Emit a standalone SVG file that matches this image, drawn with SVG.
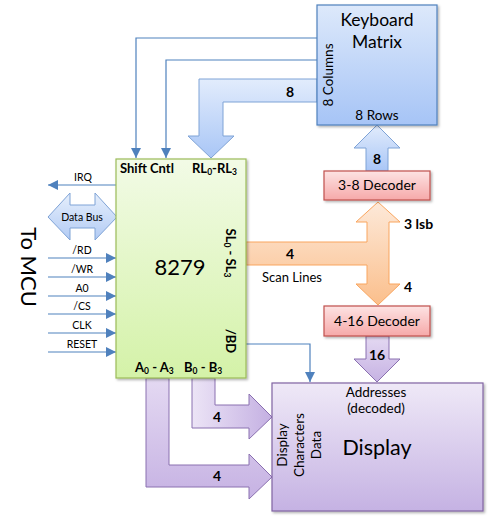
<svg xmlns="http://www.w3.org/2000/svg" width="489" height="518" viewBox="0 0 489 518">
<defs>
<linearGradient id="gGreen" x1="0" y1="0" x2="0" y2="1"><stop offset="0" stop-color="#f2fbe6"/><stop offset="1" stop-color="#d4f2a8"/></linearGradient>
<linearGradient id="gBlue" x1="0" y1="0" x2="0" y2="1"><stop offset="0" stop-color="#dde9fb"/><stop offset="1" stop-color="#a6c4f6"/></linearGradient>
<linearGradient id="gBlueA" x1="0" y1="0" x2="0" y2="1"><stop offset="0" stop-color="#e2ecfc"/><stop offset="1" stop-color="#a9c6f6"/></linearGradient>
<linearGradient id="gRed" x1="0" y1="0" x2="0" y2="1"><stop offset="0" stop-color="#fde3e3"/><stop offset="1" stop-color="#f6a9a9"/></linearGradient>
<linearGradient id="gPurple" x1="0" y1="0" x2="0" y2="1"><stop offset="0" stop-color="#efe9f7"/><stop offset="1" stop-color="#c5b2e3"/></linearGradient>
<linearGradient id="gPurpleA" x1="0" y1="0" x2="1" y2="0"><stop offset="0" stop-color="#ece4f6"/><stop offset="1" stop-color="#c4b0e2"/></linearGradient>
<linearGradient id="gPurpleV" x1="0" y1="0" x2="0" y2="1"><stop offset="0" stop-color="#e4d9f2"/><stop offset="1" stop-color="#c6b2e3"/></linearGradient>
<linearGradient id="gOrange" x1="0" y1="0" x2="0" y2="1"><stop offset="0" stop-color="#fde9d9"/><stop offset="1" stop-color="#fbbf8c"/></linearGradient>
<linearGradient id="gDB" x1="0" y1="0" x2="0" y2="1"><stop offset="0" stop-color="#e6effc"/><stop offset="1" stop-color="#b2cbf4"/></linearGradient>
<filter id="sh" x="-10%" y="-10%" width="130%" height="130%"><feDropShadow dx="1.5" dy="1.5" stdDeviation="1.2" flood-color="#000" flood-opacity="0.3"/></filter>
<marker id="ah" viewBox="0 0 10 10" refX="10" refY="5" markerWidth="10" markerHeight="10" markerUnits="userSpaceOnUse" orient="auto"><path d="M0,0 L10,5 L0,10 Z" fill="#4f81bd"/></marker>
</defs>
<style>
text{font-family:Lato,"Open Sans","Liberation Sans",sans-serif;fill:#000}
.t{font-size:10.5px}
.b{font-weight:bold;font-size:13px}
.n{font-weight:bold;font-size:14px}
.m{font-size:13.5px}
.w{fill:none;stroke:#4f81bd;stroke-width:1.2}
.sig{fill:none;stroke:#4f81bd;stroke-width:1.2;marker-end:url(#ah)}
</style>

<g id="connectors">
  <path class="sig" d="M317,38 H136 V158"/>
  <path class="sig" d="M317,60 H166 V158"/>
  <path class="sig" d="M246,344 H310 V382"/>
  <path class="sig" d="M116,185 H48"/>
  <path class="sig" d="M48,258 H116"/>
  <path class="sig" d="M48,277 H116"/>
  <path class="sig" d="M48,296 H116"/>
  <path class="sig" d="M48,314 H116"/>
  <path class="sig" d="M48,333 H116"/>
  <path class="sig" d="M48,352 H116"/>
  <text class="t" x="83" y="181" text-anchor="middle">IRQ</text>
  <text class="t" x="82" y="254" text-anchor="middle">/RD</text>
  <text class="t" x="82" y="273" text-anchor="middle">/WR</text>
  <text class="t" x="82" y="292" text-anchor="middle">A0</text>
  <text class="t" x="82" y="310" text-anchor="middle">/CS</text>
  <text class="t" x="82" y="329" text-anchor="middle">CLK</text>
  <text class="t" x="82" y="348" text-anchor="middle">RESET</text>

  <g id="databus">
    <path d="M48,217 L70,193 L70,205 L95,205 L95,193 L117,217 L95,240 L95,228 L70,228 L70,240 Z" fill="url(#gDB)" stroke="#7fa3d6" stroke-width="1"/>
    <text x="82" y="220.5" font-size="10.5" text-anchor="middle">Data Bus</text>
  </g>

  <g id="rows-arrow">
    <path d="M317,79 H199 V136 H188 L211,158 L234,136 H223 V102 H317 Z" fill="url(#gBlueA)" stroke="#7fa3d6" stroke-width="1"/>
    <text class="n" x="290" y="97" text-anchor="middle">8</text>
  </g>
  <g id="dec38-arrow">
    <path d="M366,171 V148 H354 L377,125 L400,148 H388 V171 Z" fill="url(#gBlueA)" stroke="#7fa3d6" stroke-width="1"/>
    <text class="n" x="377" y="164" text-anchor="middle">8</text>
  </g>
  <g id="scan-arrow">
    <path d="M246,242 H367 V222 H356 L378,202 L400,222 H389 V284 H400 L378,305 L356,284 H367 V265 H246 Z" fill="url(#gOrange)" stroke="#f9a55e" stroke-width="1"/>
    <text class="n" x="290" y="259" text-anchor="middle">4</text>
    <text x="292" y="282" font-size="13" text-anchor="middle">Scan Lines</text>
    <text class="n" x="404" y="229">3 lsb</text>
    <text class="n" x="404" y="292">4</text>
  </g>
  <g id="addr-arrow">
    <path d="M366,336 V359 H354 L377,382 L400,359 H389 V336 Z" fill="url(#gPurpleV)" stroke="#8a70b0" stroke-width="1"/>
    <text class="n" x="377" y="360" text-anchor="middle">16</text>
  </g>
  <g id="a-arrow">
    <path d="M146,378 V487 H249 V499 L272,477 L249,454 V465 H169 V378 Z" fill="url(#gPurpleV)" stroke="#8a70b0" stroke-width="1"/>
    <text class="n" x="217" y="481" text-anchor="middle">4</text>
  </g>
  <g id="b-arrow">
    <path d="M192,378 V428 H249 V439 L272,417 L249,394 V405 H215 V378 Z" fill="url(#gPurpleA)" stroke="#8a70b0" stroke-width="1"/>
    <text class="n" x="217" y="422" text-anchor="middle">4</text>
  </g>
</g>

<g id="chip8279">
  <rect x="116" y="159" width="130" height="219" fill="url(#gGreen)" stroke="#9bbb59" stroke-width="1.2" filter="url(#sh)"/>
  <text class="b" x="120" y="173">Shift Cntl</text>
  <text class="b" x="192" y="173">RL<tspan font-size="8.5" dy="2">0</tspan><tspan dy="-2">-RL</tspan><tspan font-size="8.5" dy="2">3</tspan></text>
  <text x="180" y="275" font-size="22" text-anchor="middle">8279</text>
  <text class="b" transform="translate(226,253) rotate(90)" text-anchor="middle">SL<tspan font-size="8.5" dy="2">0</tspan><tspan dy="-2"> - SL</tspan><tspan font-size="8.5" dy="2">3</tspan></text>
  <text class="b" transform="translate(226,341) rotate(90)" text-anchor="middle">/BD</text>
  <text class="b" x="135" y="372">A<tspan font-size="8.5" dy="2">0</tspan><tspan dy="-2"> - A</tspan><tspan font-size="8.5" dy="2">3</tspan></text>
  <text class="b" x="184" y="372">B<tspan font-size="8.5" dy="2">0</tspan><tspan dy="-2"> - B</tspan><tspan font-size="8.5" dy="2">3</tspan></text>
</g>

<g id="keyboard">
  <rect x="317" y="5" width="120" height="120" fill="url(#gBlue)" stroke="#4f81bd" stroke-width="1.2" filter="url(#sh)"/>
  <text x="377" y="26" font-size="17.5" text-anchor="middle">Keyboard</text>
  <text x="377" y="48" font-size="17.5" text-anchor="middle">Matrix</text>
  <text class="m" transform="translate(333,75) rotate(-90)" text-anchor="middle">8 Columns</text>
  <text class="m" x="377" y="120" text-anchor="middle">8 Rows</text>
</g>

<g id="dec38">
  <rect x="324" y="171" width="106" height="29" fill="url(#gRed)" stroke="#c0504d" stroke-width="1.2" filter="url(#sh)"/>
  <text x="377" y="190" font-size="14" text-anchor="middle">3-8 Decoder</text>
</g>

<g id="dec416">
  <rect x="324" y="306" width="106" height="30" fill="url(#gRed)" stroke="#c0504d" stroke-width="1.2" filter="url(#sh)"/>
  <text x="377" y="326" font-size="14" text-anchor="middle">4-16 Decoder</text>
</g>

<g id="display">
  <rect x="272" y="383" width="211" height="128" fill="url(#gPurple)" stroke="#8064a2" stroke-width="1.2" filter="url(#sh)"/>
  <text class="m" x="376" y="397" text-anchor="middle">Addresses</text>
  <text class="m" x="376" y="413" text-anchor="middle">(decoded)</text>
  <text x="377" y="455" font-size="21.5" text-anchor="middle">Display</text>
  <text class="m" transform="translate(287,445) rotate(-90)" text-anchor="middle">Display</text>
  <text class="m" transform="translate(304,445) rotate(-90)" text-anchor="middle">Characters</text>
  <text class="m" transform="translate(321,445) rotate(-90)" text-anchor="middle">Data</text>
</g>

<text transform="translate(21,267) rotate(90)" font-size="22" text-anchor="middle">To MCU</text>
</svg>
